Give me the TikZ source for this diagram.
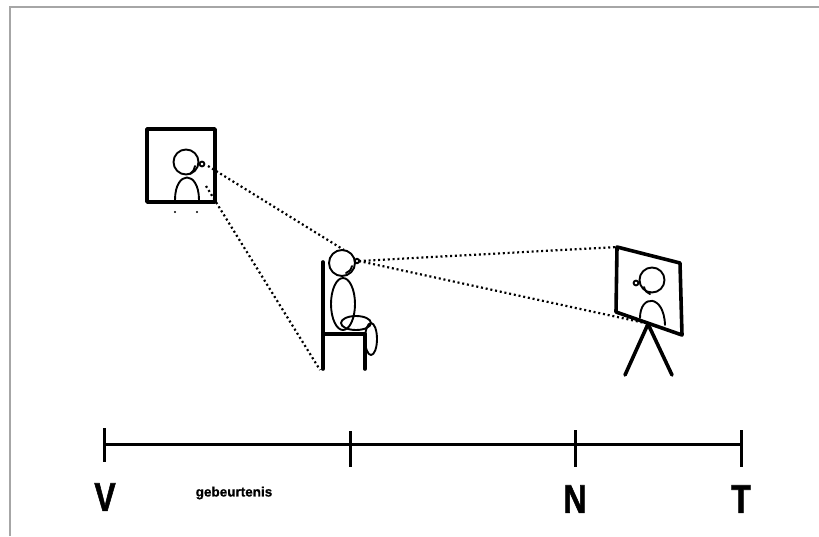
\documentclass[tikz,border=0pt]{standalone}
\usepackage{fontspec}
\setmainfont{Liberation Sans}
\newfontfamily\headfont[BoldFeatures={FakeBold=1.6}]{Liberation Sans}
\newfontfamily\labelfont[BoldFeatures={FakeBold=0.8}]{Liberation Sans}
\begin{document}
\begin{tikzpicture}[x=1pt,y=-1pt,
  ink/.style={line width=1.9pt,line cap=round,line join=round},
  heavy/.style={line width=3.6pt,line cap=round,line join=round},
  sight/.style={line width=2.2pt,dash pattern=on 2pt off 2.8pt},
  axis/.style={line width=3pt},
  tick/.style={line width=3pt},
  letter/.style={font=\headfont\fontsize{40}{40}\selectfont\bfseries,xscale=0.8,inner sep=0pt},
  small/.style={font=\labelfont\fontsize{13.5}{13.5}\selectfont\bfseries,inner sep=0pt}]
\useasboundingbox (0,0) rectangle (819,536);
% outer frame (top and left edge only)
\draw[line width=1.8pt,gray!70] (10,536) -- (10,7) -- (819,7);

% portrait on the wall
\draw[heavy] (147,129) rectangle (215,202);
\draw[ink] (186,162) circle (12.5);
\draw[ink] (175,200) .. controls (175,170) and (199,170) .. (199,200);
\draw[ink] (202,164) circle (2.4);
\draw[ink] (195,166) .. controls (194,170) and (193,172) .. (190,174);
\fill (175,212) circle (1.1);
\fill (197,212) circle (1.1);
\coordinate (wallA) at (208,166);
\coordinate (wallB) at (206,186);

% seated viewer
\draw[heavy] (323,262) -- (323,369);
\draw[heavy] (323,334) -- (365,334);
\draw[heavy] (365,334) -- (365,369);
\draw[ink] (342,263) circle (13);
\draw[ink] (343,304) ellipse (12 and 26);
\draw[ink] (356,323) ellipse (15 and 7);
\draw[ink] (371,339) ellipse (6 and 16);
\draw[ink] (357,261) circle (2.2);
\draw[ink] (352,266) .. controls (351,270) and (349,272) .. (346,273);
\coordinate (eye) at (359,261);
\coordinate (headtop) at (344,250);
\coordinate (chairfoot) at (320,370);

% portrait on an easel
\coordinate (pTL) at (617,247);
\coordinate (pTR) at (680,263);
\coordinate (pBR) at (682,335);
\coordinate (pBL) at (616,312);
\draw[heavy] (pTL) -- (pTR) -- (pBR) -- (pBL) -- cycle;
\draw[ink] (652,280) circle (12.5);
\draw[ink] (640,318) .. controls (640,294) and (664,294) .. (665,325);
\draw[ink] (636,283) circle (2.4);
\draw[ink] (644,287) .. controls (645,291) and (647,293) .. (650,294);
\coordinate (easeltop) at (648,324);
\draw[heavy] (easeltop) -- (625,375);
\draw[heavy] (easeltop) -- (672,375);
\coordinate (easelB) at (645,323);

% lines of sight
\draw[sight] (wallA) -- (headtop);
\draw[sight] (wallB) -- (chairfoot);
\draw[sight] (eye) -- (pTL);
\draw[sight] (eye) -- (easelB);

% time line
\coordinate (tV) at (104,444);
\coordinate (tT) at (741,444);
\draw[axis] (tV) -- (tT);
\draw[tick] (104,428) -- (104,462);
\draw[tick] (350,431) -- (350,467);
\draw[tick] (575,430) -- (575,467);
\draw[tick] (741,430) -- (741,467);
\node[letter] (V) at (105,497) {V};
\node[small] (G) at (234,493) {gebeurtenis};
\node[letter] (N) at (575,499) {N};
\node[letter] (T) at (741,499) {T};
\end{tikzpicture}
\end{document}
